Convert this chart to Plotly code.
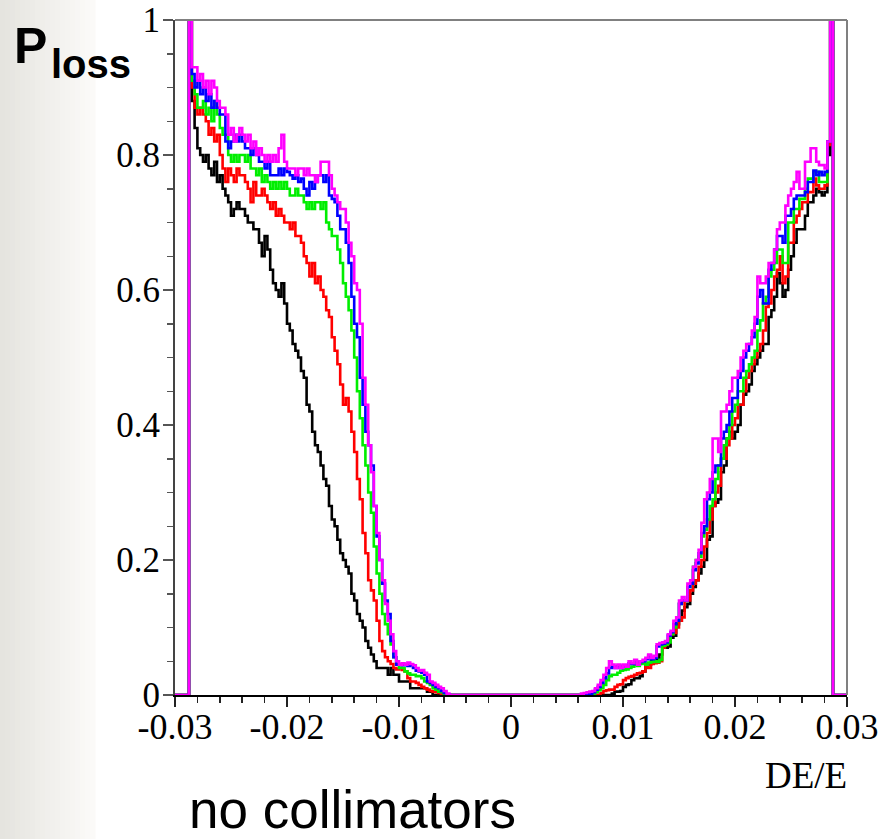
import numpy as np
import plotly.graph_objects as go

# ---------------- data ----------------
x_min, x_max = -0.03, 0.03
n_bins = 240
edge_value = 1.0          # spike bins at +-0.02875

x_tick_vals = [-0.03, -0.02, -0.01, 0.0, 0.01, 0.02, 0.03]
x_tick_text = ["-0.03", "-0.02", "-0.01", "0", "0.01", "0.02", "0.03"]
y_tick_vals = [0, 0.2, 0.4, 0.6, 0.8, 1.0]
y_tick_text = ["0", "0.2", "0.4", "0.6", "0.8", "1"]

# left branch: bins 6..97 ; right branch: bins 145..233
black_left = [.88, .84, .81, .80, .79, .80, .78, .77, .79, .76,
              .77, .75, .74, .73, .71, .72, .73, .72, .72, .71,
              .70, .70, .69, .69, .67, .65, .68, .66, .63, .61,
              .60, .59, .61, .58, .55, .54, .52, .51, .50, .48,
              .47, .43, .42, .39, .37, .36, .34, .32, .31, .28,
              .26, .25, .23, .21, .20, .19, .18, .15, .14, .12,
              .11, .10, .08, .07, .06, .05, .04, .04, .04, .04,
              .03, .04, .03, .03, .02, .02, .02, .02, .01, .01,
              .01, .01, .01, .01, .005, .005, 0, 0, 0, 0,
              0, 0]
red_left = [.90, .87, .86, .87, .86, .85, .83, .84, .82, .83,
            .80, .78, .76, .78, .77, .76, .78, .77, .77, .76,
            .75, .73, .76, .74, .74, .75, .74, .73, .72, .73,
            .71, .72, .71, .70, .70, .69, .70, .68, .68, .67,
            .65, .64, .62, .64, .61, .62, .60, .59, .57, .56,
            .53, .51, .49, .46, .43, .44, .42, .39, .36, .32,
            .29, .24, .21, .17, .155, .14, .11, .08, .065, .056,
            .05, .046, .04, .038, .04, .037, .035, .025, .02, .02,
            .018, .015, .012, .01, .008, .006, .005, .004, .003, .002,
            .001, 0]
green_left = [.91, .89, .87, .87, .88, .86, .87, .85, .88, .86,
              .84, .83, .83, .80, .79, .80, .79, .80, .80, .79,
              .80, .78, .78, .77, .78, .76, .77, .76, .75, .76,
              .75, .76, .75, .76, .75, .74, .74, .75, .74, .74,
              .73, .72, .73, .72, .73, .73, .72, .73, .70, .69,
              .68, .68, .66, .64, .61, .59, .57, .54, .50, .45,
              .41, .37, .34, .30, .27, .22, .18, .15, .12, .105,
              .09, .075, .056, .045, .04, .04, .035, .032, .03, .03,
              .028, .028, .025, .02, .018, .015, .01, .008, .005, .004,
              .002, .001]
blue_left = [.92, .90, .91, .89, .90, .88, .89, .87, .88, .87,
             .86, .86, .82, .81, .82, .83, .82, .83, .82, .81,
             .81, .80, .81, .80, .79, .79, .78, .79, .77, .77,
             .77, .78, .77, .78, .775, .77, .765, .77, .76, .765,
             .75, .74, .76, .75, .76, .77, .77, .76, .77, .74,
             .735, .73, .71, .69, .69, .67, .64, .59, .55, .53,
             .47, .43, .39, .37, .34, .28, .235, .20, .165, .14,
             .12, .08, .056, .045, .045, .044, .045, .043, .045, .04,
             .036, .035, .033, .03, .02, .018, .015, .012, .01, .006,
             .003, .001]
magenta_left = [.93, .93, .91, .92, .90, .91, .89, .91, .90, .88,
                .87, .87, .86, .83, .84, .82, .83, .84, .83, .82,
                .83, .81, .82, .80, .81, .80, .79, .80, .79, .80,
                .79, .81, .83, .79, .78, .78, .78, .77, .78, .78,
                .77, .78, .77, .77, .76, .77, .79, .79, .79, .77,
                .75, .74, .73, .72, .72, .70, .67, .65, .61, .60,
                .55, .47, .43, .37, .33, .28, .24, .20, .17, .135,
                .11, .09, .065, .05, .045, .047, .045, .048, .046, .044,
                .04, .036, .037, .033, .03, .02, .018, .015, .012, .01,
                .006, .002]

black_right = [0, 0, 0, 0, 0, 0, 0, 0, 0, 0,
               0, .002, .005, .005, .006, .012, .015, .016, .022, .025,
               .025, .028, .035, .045, .045, .05, .05, .052, .06, .07,
               .07, .072, .085, .088, .105, .11, .125, .13, .135, .15,
               .16, .17, .18, .19, .20, .23, .235, .28, .285, .29,
               .33, .34, .38, .39, .38, .39, .40, .43, .445, .45,
               .46, .48, .49, .50, .51, .52, .52, .56, .57, .59,
               .625, .61, .59, .60, .63, .65, .67, .69, .69, .69,
               .71, .73, .73, .74, .75, .745, .74, .745, .80]
red_right = [0, 0, 0, 0, 0, 0, 0, .003, .006, .007,
             .008, .008, .012, .015, .016, .022, .025, .027, .028, .03,
             .032, .033, .035, .045, .04, .046, .047, .048, .05, .07,
             .074, .08, .09, .092, .10, .11, .115, .14, .14, .155,
             .165, .17, .19, .20, .22, .24, .26, .28, .30, .31,
             .35, .35, .37, .38, .40, .41, .43, .43, .45, .47,
             .48, .49, .50, .51, .52, .54, .575, .58, .60, .62,
             .63, .65, .61, .62, .67, .67, .70, .71, .72, .73,
             .73, .745, .745, .765, .755, .75, .75, .755, .815]
green_right = [0, 0, 0, 0, .002, .004, .007, .01, .015, .022,
               .028, .03, .03, .033, .036, .037, .038, .04, .042, .045,
               .043, .046, .048, .045, .048, .049, .05, .049, .052, .073,
               .075, .078, .09, .10, .11, .135, .14, .14, .16, .165,
               .19, .20, .205, .235, .245, .26, .28, .29, .32, .34,
               .35, .37, .38, .40, .42, .43, .45, .45, .47, .48,
               .49, .50, .51, .54, .555, .58, .59, .62, .63, .64,
               .66, .66, .64, .64, .70, .70, .72, .72, .735, .735,
               .75, .765, .765, .775, .775, .76, .76, .76, .82]
blue_right = [0, 0, 0, .002, .004, .008, .012, .018, .025, .032,
              .04, .042, .04, .043, .04, .044, .042, .047, .046, .05,
              .045, .049, .05, .053, .058, .053, .055, .072, .075, .076,
              .078, .088, .093, .105, .11, .135, .14, .14, .16, .165,
              .185, .195, .21, .24, .25, .29, .30, .33, .34, .34,
              .38, .39, .40, .42, .44, .44, .47, .48, .50, .51,
              .52, .53, .55, .59, .60, .58, .58, .63, .64, .66,
              .68, .68, .67, .71, .71, .72, .735, .74, .74, .74,
              .745, .76, .76, .777, .77, .775, .77, .775, .82]
magenta_right = [.002, .003, .004, .005, .006, .01, .015, .022, .03, .04,
                 .05, .045, .04, .045, .04, .045, .042, .05, .047, .052,
                 .045, .05, .052, .055, .06, .055, .058, .075, .077, .078,
                 .08, .09, .095, .11, .115, .14, .145, .14, .165, .17,
                 .19, .20, .215, .255, .29, .30, .32, .38, .38, .36,
                 .42, .42, .43, .45, .47, .47, .48, .50, .51, .52,
                 .52, .54, .56, .62, .61, .61, .62, .64, .64, .66,
                 .69, .70, .70, .725, .74, .75, .76, .775, .75, .75,
                 .79, .79, .81, .81, .79, .785, .785, .78, .82]

series = [
    ("black", black_left, black_right, "#000000"),
    ("red", red_left, red_right, "#ff0000"),
    ("green", green_left, green_right, "#00ee00"),
    ("blue", blue_left, blue_right, "#0000ff"),
    ("magenta", magenta_left, magenta_right, "#ff00ff"),
]


def full_histogram(left, right):
    vals = ([0.0] * 5 + [edge_value] + list(left) + [0.0] * 47 +
            list(right) + [edge_value] + [0.0] * 5)
    assert len(vals) == n_bins, len(vals)
    return vals


edges = np.linspace(x_min, x_max, n_bins + 1)

fig = go.Figure()
for name, left, right, color in series:
    vals = full_histogram(left, right)
    fig.add_trace(go.Scatter(
        x=edges, y=vals + [vals[-1]], mode="lines", name=name,
        line=dict(color=color, width=2.6, shape="hv"),
        hoverinfo="skip"))

# ---------------- layout ----------------
L, R, T, B = 175, 33, 20, 144
W, H = 880, 839
pw, ph = W - L - R, H - T - B


def px(xp):
    return (xp - L) / pw


def py(yp):
    return (H - B - yp) / ph


shapes = []
# light grey gradient strip at the left edge of the page
n_strip = 19
for k in range(n_strip):
    f = k / (n_strip - 1)
    r = int(round(229 + f * 22))
    g = int(round(228 + f * 22))
    b = int(round(223 + f * 25))
    shapes.append(dict(type="rect", xref="paper", yref="paper",
                       x0=px(k * 5), x1=px(k * 5 + 5.5), y0=py(H), y1=py(0),
                       fillcolor=f"rgb({r},{g},{b})", line=dict(width=0),
                       layer="below"))
# grey top / right frame
shapes.append(dict(type="line", xref="paper", yref="paper", x0=0, x1=1, y0=1, y1=1,
                   line=dict(color="#808080", width=2)))
shapes.append(dict(type="line", xref="paper", yref="paper", x0=1, x1=1, y0=0, y1=1,
                   line=dict(color="#808080", width=2)))

serif = "Liberation Serif, Times New Roman, serif"
sans = "Liberation Sans, Arial, sans-serif"

annotations = [
    dict(text="<b>P</b>", xref="paper", yref="paper", x=px(12), y=py(46),
         xanchor="left", yanchor="middle", showarrow=False,
         font=dict(family=sans, size=50, color="black")),
    dict(text="<b>loss</b>", xref="paper", yref="paper", x=px(49), y=py(64),
         xanchor="left", yanchor="middle", showarrow=False,
         font=dict(family=sans, size=40, color="black")),
    dict(text="DE/E", xref="paper", yref="paper", x=px(849), y=py(775),
         xanchor="right", yanchor="middle", showarrow=False,
         font=dict(family=serif, size=37, color="black")),
    dict(text="no collimators", xref="paper", yref="paper", x=px(187), y=py(809),
         xanchor="left", yanchor="middle", showarrow=False,
         font=dict(family=sans, size=53, color="black")),
]

fig.update_layout(
    width=W, height=H,
    margin=dict(l=L, r=R, t=T, b=B, pad=0, autoexpand=False),
    paper_bgcolor="white", plot_bgcolor="white",
    showlegend=False,
    shapes=shapes, annotations=annotations,
    xaxis=dict(range=[x_min, x_max], tickmode="array", tickvals=x_tick_vals,
               ticktext=x_tick_text, ticks="outside", ticklen=10, tickwidth=1.5,
               tickcolor="#222222", showline=True, linecolor="black", linewidth=2,
               zeroline=False, showgrid=False, layer="below traces",
               automargin=False, ticklabelstandoff=-11,
               tickfont=dict(family=serif, size=36, color="black"),
               minor=dict(dtick=0.002, tick0=-0.03, ticks="outside", ticklen=6,
                          tickwidth=1.5, tickcolor="#222222", showgrid=False)),
    yaxis=dict(range=[0, 1], tickmode="array", tickvals=y_tick_vals,
               ticktext=y_tick_text, ticks="outside", ticklen=10, tickwidth=1.5,
               tickcolor="#555555", showline=True, linecolor="#444444", linewidth=2,
               zeroline=False, showgrid=False, layer="below traces",
               automargin=False, ticklabelstandoff=-4,
               tickfont=dict(family=serif, size=35, color="black"),
               minor=dict(dtick=0.05, tick0=0, ticks="outside", ticklen=6,
                          tickwidth=1.5, tickcolor="#555555", showgrid=False)),
)

fig.write_html("out.html",
               config={"displayModeBar": False, "staticPlot": True},
               post_script="document.body.style.margin='0';"
                           "document.documentElement.style.overflow='hidden';")
